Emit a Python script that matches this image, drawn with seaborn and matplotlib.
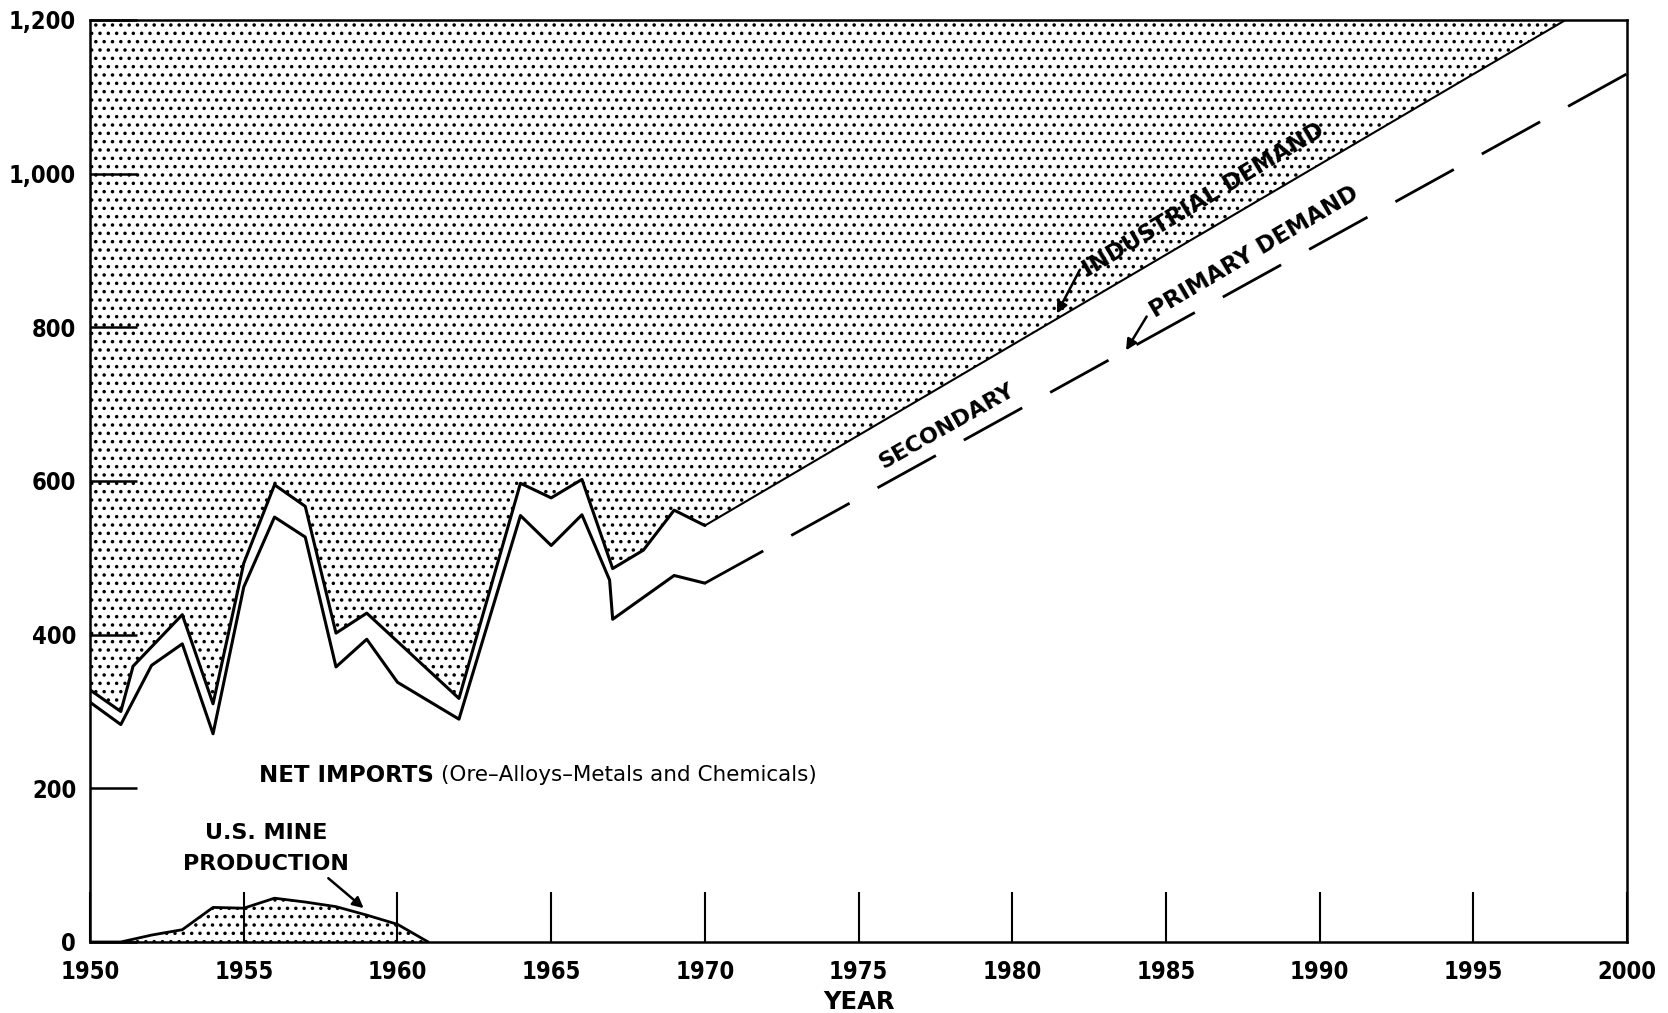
import matplotlib
matplotlib.use("Agg")
import matplotlib.pyplot as plt
import seaborn as sns
import pandas as pd

# Industrial demand (primary + secondary), recorded years
ind_years = [1950, 1951, 1951.4, 1953, 1954, 1955, 1956, 1957, 1958, 1959,
             1962, 1964, 1965, 1966, 1967, 1968, 1969, 1970]
ind_values = [328, 300, 359, 426, 310, 493, 595, 567, 402, 428,
              317, 597, 578, 602, 486, 510, 562, 542]
# Industrial demand, projected
ind_proj_years = [1970, 2000]
ind_proj_values = [542, 1247]

# Primary demand, recorded years
prim_years = [1950, 1951, 1952, 1953, 1954, 1955, 1956, 1957, 1958, 1959,
              1960, 1962, 1964, 1965, 1966, 1966.9, 1967, 1969, 1970]
prim_values = [312, 283, 360, 388, 271, 462, 553, 527, 358, 394,
               338, 290, 555, 516, 556, 471, 420, 477, 467]
# Primary demand, projected
prim_proj_years = [1970, 2000]
prim_proj_values = [467, 1130]

# U.S. mine production
mine_years = [1950, 1951, 1952, 1953, 1954, 1955, 1956, 1957, 1958, 1959, 1960, 1961]
mine_values = [0, 0, 9, 16, 45, 44, 57, 52, 46, 35, 23, 0]

x_ticks = [1950, 1955, 1960, 1965, 1970, 1975, 1980, 1985, 1990, 1995, 2000]
y_ticks = [0, 200, 400, 600, 800, 1000, 1200]
y_tick_labels = ["0", "200", "400", "600", "800", "1,000", "1,200"]

sns.set_theme(style="ticks")
plt.rcParams["font.family"] = ["DejaVu Sans"]
plt.rcParams["hatch.linewidth"] = 1.3
plt.rcParams["hatch.color"] = "black"

fig = plt.figure(figsize=(16.68, 10.13), dpi=100)
fig.patch.set_facecolor("white")
ax = fig.add_axes([0.054, 0.0701, 0.9215, 0.9102])
ax.set_facecolor("white")

ind_hist = pd.DataFrame({"year": ind_years, "value": ind_values})
ind_proj = pd.DataFrame({"year": ind_proj_years, "value": ind_proj_values})
prim_hist = pd.DataFrame({"year": prim_years, "value": prim_values})
prim_proj = pd.DataFrame({"year": prim_proj_years, "value": prim_proj_values})
mine = pd.DataFrame({"year": mine_years, "value": mine_values})

# stippled area above industrial demand
fill_x = ind_years + ind_proj_years[1:]
fill_y = ind_values + ind_proj_values[1:]
ax.fill_between(fill_x, fill_y, 1200, facecolor="white", edgecolor="black",
                hatch="..", linewidth=0, zorder=0)
# stippled mine production
ax.fill_between(mine_years, mine_values, 0, facecolor="white", edgecolor="black",
                hatch="..", linewidth=0, zorder=0)

line_kw = dict(ax=ax, x="year", y="value", color="black", estimator=None, sort=False)
sns.lineplot(data=ind_hist, linewidth=2.2, **line_kw)
sns.lineplot(data=ind_proj, linewidth=1.5, **line_kw)
sns.lineplot(data=prim_hist, linewidth=2.2, **line_kw)
sns.lineplot(data=prim_proj, linewidth=2.0, linestyle=(0, (24, 11.5)), **line_kw)
sns.lineplot(data=mine, linewidth=2.0, **line_kw)

ax.set_xlim(1950, 2000)
ax.set_ylim(0, 1200)
ax.set_xticks(x_ticks)
ax.set_xticklabels([str(y) for y in x_ticks])
ax.set_yticks(y_ticks)
ax.set_yticklabels(y_tick_labels)
ax.tick_params(axis="x", direction="in", length=36, width=1.5, pad=13,
               labelsize=17, color="black", labelcolor="black")
ax.tick_params(axis="y", direction="in", length=34, width=1.8, pad=10,
               labelsize=17, color="black", labelcolor="black")
tick_family = ["Liberation Sans Narrow", "DejaVu Sans"]
for lab in ax.get_xticklabels() + ax.get_yticklabels():
    lab.set_family(tick_family)
    lab.set_fontweight("bold")
    lab.set_fontstretch("condensed")

for side in ["left", "right", "top", "bottom"]:
    ax.spines[side].set_visible(True)
    ax.spines[side].set_color("black")
    ax.spines[side].set_linewidth(1.8)

ax.set_xlabel("YEAR", fontsize=17.5, fontweight="bold", labelpad=4, color="black",
              family=tick_family)
ax.set_ylabel("")

bold = dict(fontweight="bold", color="black")
arrow = dict(arrowstyle="-|>", color="black", lw=1.8, mutation_scale=16,
             shrinkA=0, shrinkB=0)

ax.text(1955.5, 217, "NET IMPORTS", fontsize=16.5, ha="left", va="center", **bold)
ax.text(1961.4, 217, "(Ore\u2013Alloys\u2013Metals and Chemicals)", fontsize=15.5,
        ha="left", va="center", color="black")

ax.text(1955.72, 142, "U.S. MINE", fontsize=16, ha="center", va="center", **bold)
ax.text(1955.72, 101, "PRODUCTION", fontsize=16, ha="center", va="center", **bold)
ax.annotate("", xy=(1958.9, 44), xytext=(1957.75, 83), arrowprops=arrow)

ax.text(1975.8, 616, "SECONDARY", rotation=29.5, rotation_mode="anchor",
        ha="left", va="baseline", fontsize=16, **bold)
ax.text(1982.45, 866, "INDUSTRIAL DEMAND", rotation=31, rotation_mode="anchor",
        ha="left", va="baseline", fontsize=16.5, **bold)
ax.annotate("", xy=(1981.45, 818), xytext=(1982.2, 875), arrowprops=arrow)
ax.text(1984.65, 812, "PRIMARY DEMAND", rotation=30.5, rotation_mode="anchor",
        ha="left", va="baseline", fontsize=16.5, **bold)
ax.annotate("", xy=(1983.7, 770), xytext=(1984.37, 814), arrowprops=arrow)

fig.savefig("out.png", dpi=100, facecolor="white")
